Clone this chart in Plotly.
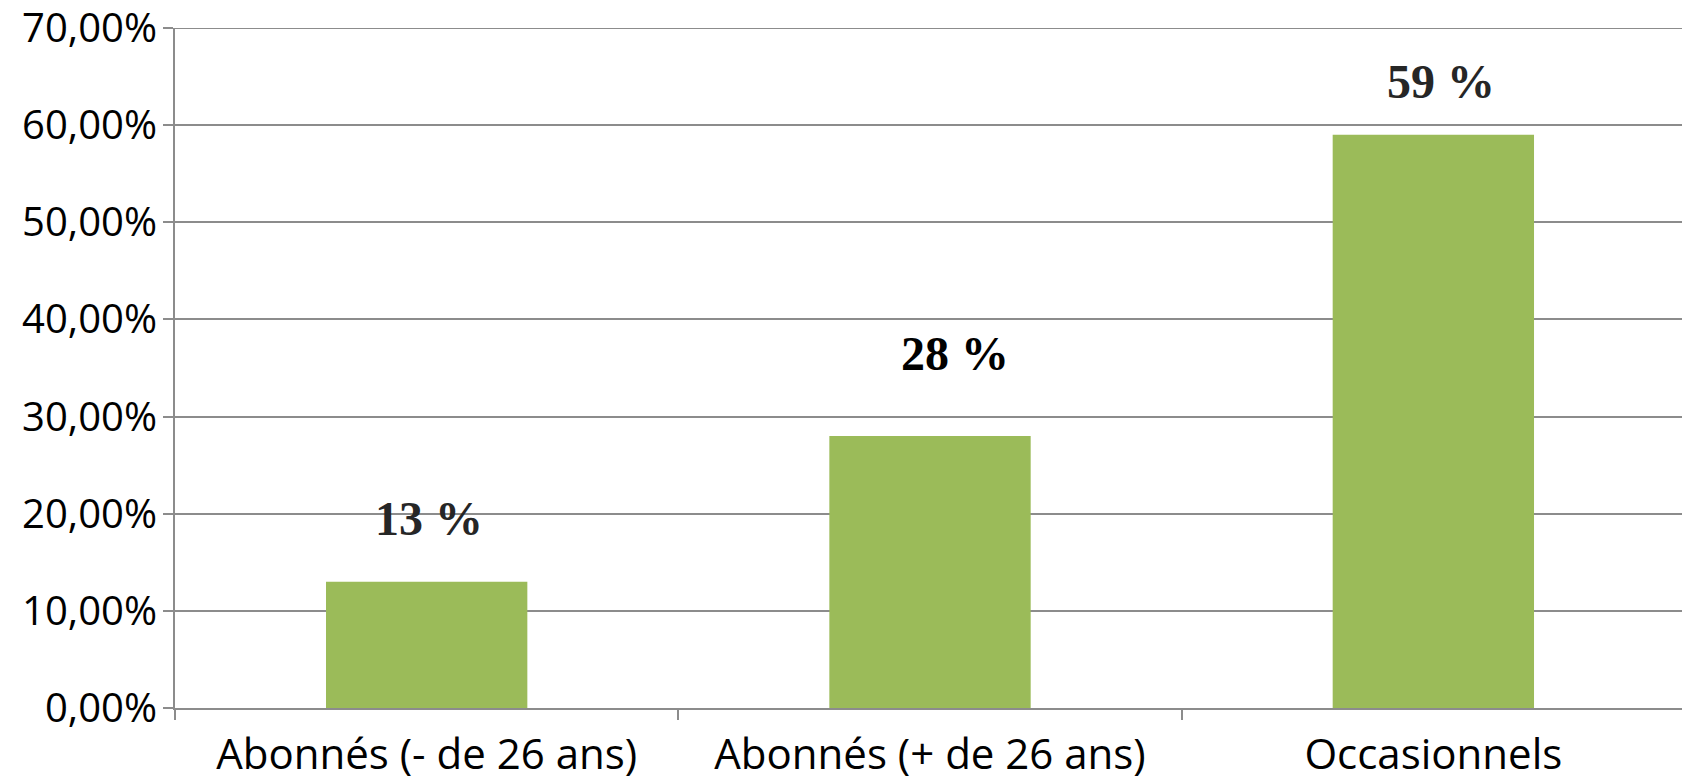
import plotly.graph_objects as go

categories = ["Abonnés (- de 26 ans)", "Abonnés (+ de 26 ans)", "Occasionnels"]
values = [0.13, 0.28, 0.59]
value_labels = ["13 %", "28 %", "59 %"]
tick_vals = [0, 0.1, 0.2, 0.3, 0.4, 0.5, 0.6, 0.7]
tick_text = ["0,00%", "10,00%", "20,00%", "30,00%", "40,00%", "50,00%", "60,00%", "70,00%"]

# manual label placement (offsets from bar, in category units / value units)
label_dx = [0.005, 0.05, 0.015]
label_y = [0.1946, 0.365, 0.645]
label_colors = ["#262626", "#000000", "#262626"]

GRID = "#8c8c8c"

fig = go.Figure()
fig.add_trace(go.Bar(
    x=categories, y=values, marker=dict(color="#9bbb59", line=dict(width=0)),
    width=0.4, showlegend=False, hoverinfo="skip",
))

for i, (lab, dx, ly, c) in enumerate(zip(value_labels, label_dx, label_y, label_colors)):
    fig.add_annotation(
        x=i + dx, y=ly, xref="x", yref="y", text="<b>" + lab + "</b>", showarrow=False,
        font=dict(family="Liberation Serif", size=48, color=c),
        xanchor="center", yanchor="middle",
    )

# top gridline (plotly hides gridlines lying exactly on the plot edge)
fig.add_shape(type="line", xref="paper", yref="y", x0=0, x1=1,
              y0=tick_vals[-1], y1=tick_vals[-1], line=dict(color=GRID, width=2),
              layer="below")

fig.update_layout(
    width=1682, height=779,
    margin=dict(l=175, r=0, t=28, b=71, pad=0),
    paper_bgcolor="white", plot_bgcolor="white",
    bargap=0.6,
    font=dict(family="Open Sans", size=40, color="#000000"),
)
fig.update_xaxes(
    type="category", range=[-0.5, 2.494], automargin=False,
    showline=True, linecolor=GRID, linewidth=2,
    ticks="outside", tickson="boundaries", ticklen=10, tickcolor=GRID, tickwidth=2,
    showgrid=False, tickfont=dict(family="Open Sans", size=42, color="#000000"),
    ticklabeloverflow="allow", ticklabelstandoff=9,
)
fig.update_yaxes(
    range=[0, 0.7], tickvals=tick_vals, ticktext=tick_text, automargin=False,
    showline=True, linecolor=GRID, linewidth=2,
    ticks="outside", ticklen=10, tickcolor=GRID, tickwidth=2,
    showgrid=True, gridcolor=GRID, gridwidth=2, zeroline=False,
    tickfont=dict(family="Open Sans", size=40, color="#000000"),
    ticklabeloverflow="allow", ticklabelstandoff=-2,
)

fig.write_html(
    "out.html",
    config={"displayModeBar": False},
    post_script="document.body.style.margin='0';document.body.style.overflow='hidden';",
)
